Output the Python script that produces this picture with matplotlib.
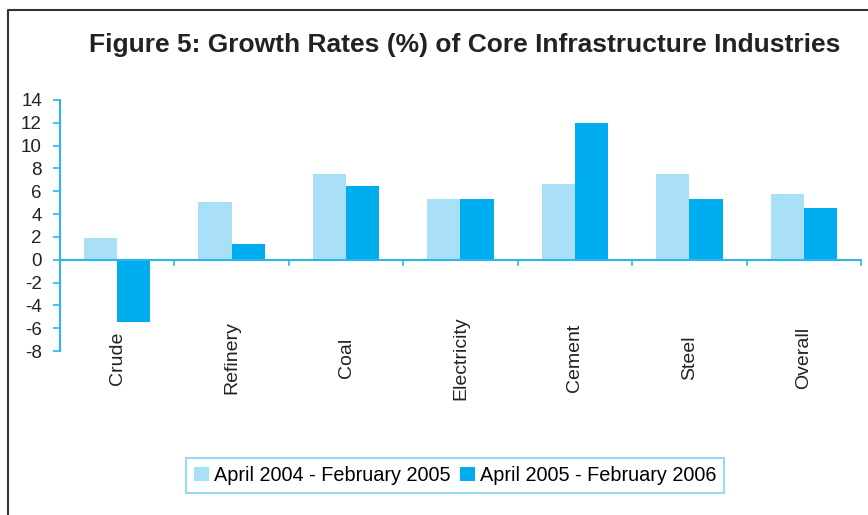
import numpy as np
import matplotlib.pyplot as plt
from matplotlib.lines import Line2D

# Dados
industrias = ['Crude', 'Refinery', 'Coal', 'Electricity', 'Cement', 'Steel', 'Overall']
taxa_2004_05 = [1.9, 5.1, 7.5, 5.3, 6.6, 7.5, 5.8]
taxa_2005_06 = [-5.5, 1.4, 6.5, 5.3, 12.0, 5.3, 4.5]
serie_labels = ['April 2004 - February 2005', 'April 2005 - February 2006']

plt.rcParams['font.family'] = ['Liberation Sans', 'DejaVu Sans']
plt.rcParams['axes.unicode_minus'] = False

cor_clara = '#aadff8'
cor_escura = '#00aeef'
cor_eixo = '#2db4ea'

fig = plt.figure(figsize=(8.68, 5.15), dpi=100)
ax = fig.add_axes([60 / 868, 1 - 351 / 515, 801 / 868, 251 / 515])

x = np.arange(len(industrias))
w = 0.29
b1 = ax.bar(x - w / 2, taxa_2004_05, w, color=cor_clara, label=serie_labels[0], zorder=2)
b2 = ax.bar(x + w / 2, taxa_2005_06, w, color=cor_escura, label=serie_labels[1], zorder=2)

ax.set_xlim(-0.5, len(industrias) - 0.5)
ax.set_ylim(-8, 14)
ax.set_yticks(np.arange(-8, 15, 2))
ax.tick_params(axis='y', direction='out', length=5, width=1.2, color=cor_eixo,
               labelsize=13.5, pad=8, labelcolor='#222222')

for s in ['top', 'right', 'bottom']:
    ax.spines[s].set_visible(False)
ax.spines['left'].set_color(cor_eixo)
ax.spines['left'].set_linewidth(1.5)

# linha do zero com marcas entre categorias
ax.axhline(0, color=cor_eixo, lw=1.5, zorder=3)
ax.set_xticks([])
for xb in np.arange(0.5, len(industrias), 1):
    ax.plot([xb, xb], [0, -0.5], color=cor_eixo, lw=1.2, zorder=3, clip_on=False)

for i, nome in enumerate(industrias):
    ax.text(i, -8.6, nome, rotation=90, ha='center', va='center', fontsize=14,
            color='#222222', clip_on=False)

fig.text(465 / 868, 1 - 45 / 515, 'Figure 5: Growth Rates (%) of Core Infrastructure Industries',
         ha='center', va='center', fontsize=19, fontweight='bold', color='#222222')

leg = ax.legend(loc='center', bbox_to_anchor=(455 / 868, 1 - 475.5 / 515),
                bbox_transform=fig.transFigure, ncol=2, fontsize=14.3, frameon=True,
                fancybox=False, handlelength=0.75, handleheight=0.75, handletextpad=0.25,
                columnspacing=0.5, borderpad=0.4, borderaxespad=0)
leg.get_frame().set_edgecolor('#7fd0f0')
leg.get_frame().set_linewidth(1.5)

# moldura da figura (esquerda e topo)
fx = 8 / 868
fy = 1 - 10 / 515
fig.add_artist(Line2D([fx, fx, 1], [0, fy, fy], transform=fig.transFigure,
                      color='#333333', lw=1.5))

fig.savefig('out.png', dpi=100)
